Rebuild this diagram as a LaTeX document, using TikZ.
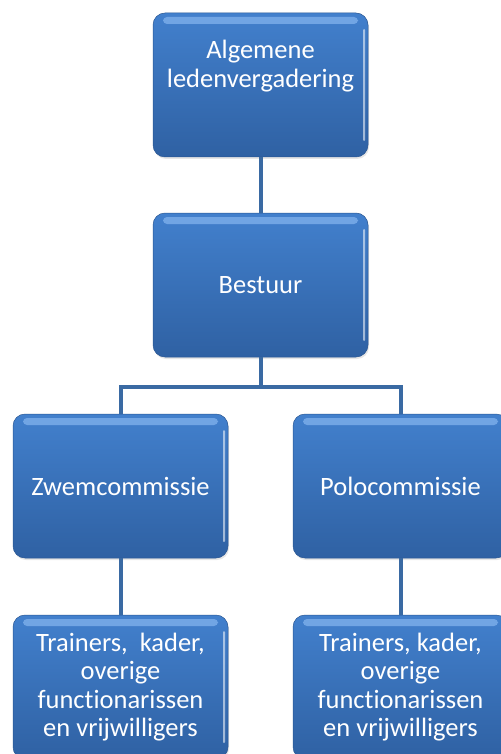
\documentclass[tikz,border=0pt]{standalone}
\usepackage{fontspec}
\setmainfont{Carlito}[Ligatures=NoCommon]
\usetikzlibrary{positioning,shadows}

\definecolor{boxtop}{RGB}{66,128,205}
\definecolor{boxbot}{RGB}{47,97,163}
\definecolor{boxline}{RGB}{58,106,163}
\definecolor{gloss}{RGB}{125,175,235}

\begin{document}
\begin{tikzpicture}[x=1pt,y=-1pt,
	orgbox/.style={rectangle, rounded corners=12pt, minimum width=215pt, minimum height=144pt,
		top color=boxtop, bottom color=boxbot, draw=boxbot!90!black, line width=0.5pt,
		drop shadow={opacity=0.2, shadow xshift=1pt, shadow yshift=-2pt},
		text=white, align=center, font=\fontsize{26.5}{28.5}\selectfont,
		path picture={
			\fill[gloss, opacity=0.8, rounded corners=4pt] ([xshift=10pt,yshift=-4pt]path picture bounding box.north west) rectangle ([xshift=-10pt,yshift=-11pt]path picture bounding box.north east);
			\fill[white, opacity=0.55, rounded corners=1pt] ([xshift=-5pt,yshift=-16pt]path picture bounding box.north east) rectangle ([xshift=-3pt,yshift=16pt]path picture bounding box.south east);
		}},
	orgtext/.style={text=white, align=center, font=\fontsize{26.5}{28.5}\selectfont},
	orgline/.style={draw=boxline, line width=4pt}]
				\useasboundingbox (0,0) rectangle (500,754);
				
				% boxes
				\node[orgbox] (alv) at (260.5,85) {};
				\node[orgtext] (alvtext) at (260.5,66) {Algemene\\ledenvergadering};
				\node[orgbox] (bestuur) at (260.5,285) {Bestuur};
				\node[orgbox] (zwem) at (120.5,486) {Zwemcommissie};
				\node[orgbox] (polo) at (400.5,486) {Polocommissie};
				\node[orgbox] (zwemkader) at (120.5,687) {Trainers,\ \ kader,\\overige\\functionarissen\\en vrijwilligers};
				\node[orgbox] (polokader) at (400.5,687) {Trainers, kader,\\overige\\functionarissen\\en vrijwilligers};
				
				% lines
				\coordinate (split) at (260.5,387);
				\draw[orgline] (alv.south) -- (bestuur.north);
				\draw[orgline] (bestuur.south) -- (split);
				\draw[orgline] (split) -| (zwem.north);
				\draw[orgline] (split) -| (polo.north);
				\draw[orgline] (zwem.south) -- (zwemkader.north);
				\draw[orgline] (polo.south) -- (polokader.north);
			\end{tikzpicture}
\end{document}
